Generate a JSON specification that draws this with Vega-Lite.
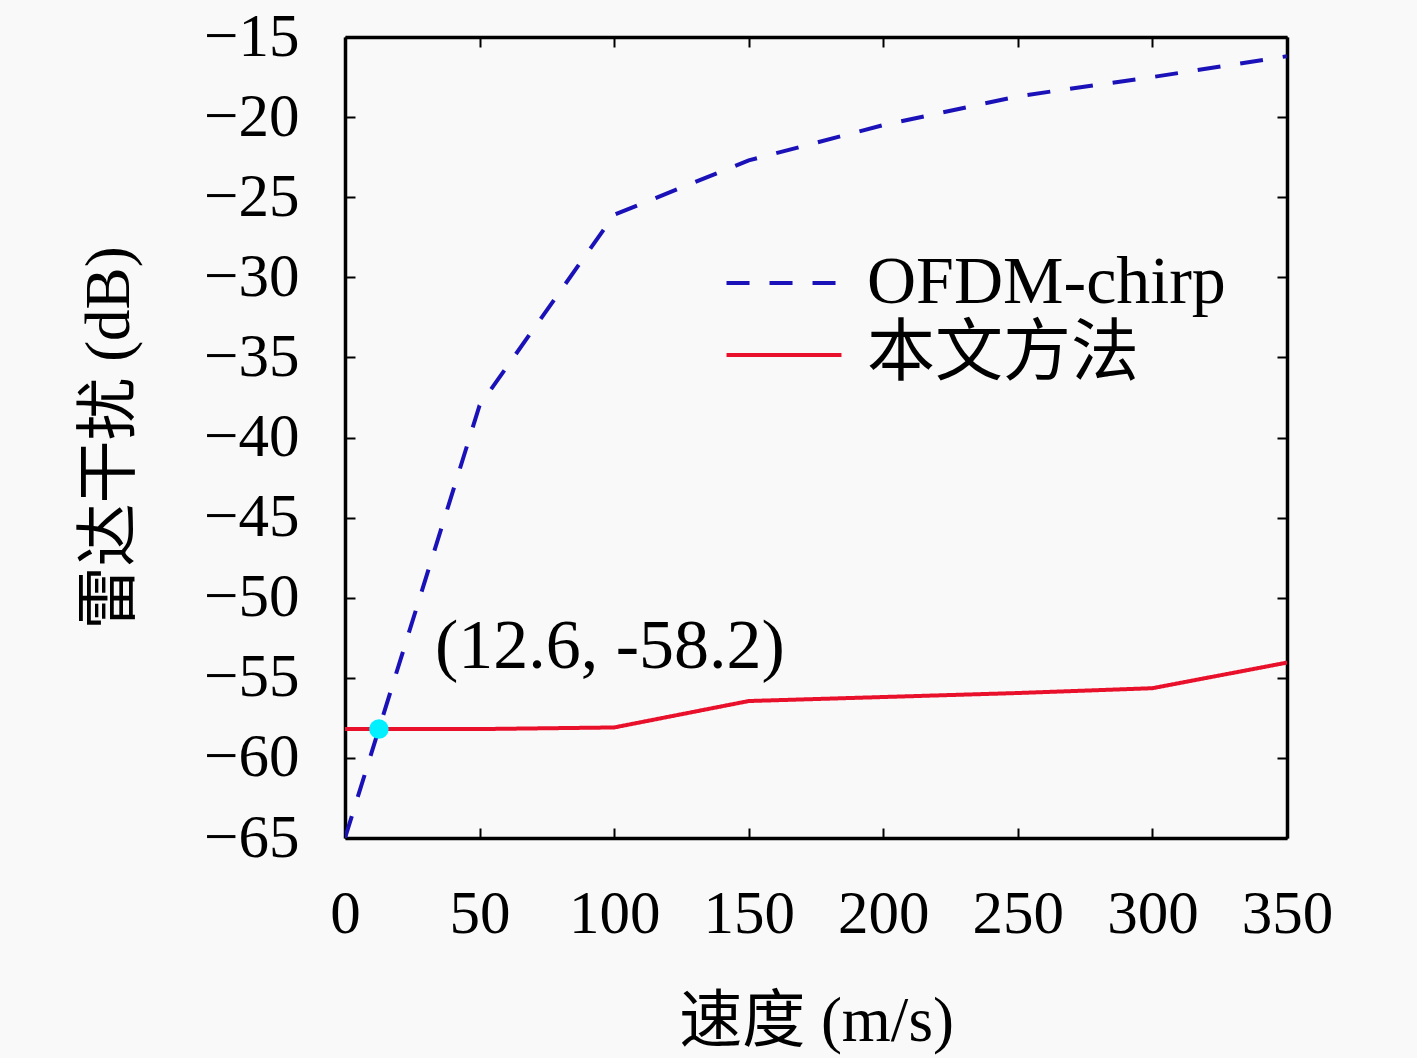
{
  "$schema": "https://vega.github.io/schema/vega-lite/v6.json",
  "width": 942,
  "height": 801,
  "autosize": "none",
  "padding": {"left": 345, "top": 37, "right": 130, "bottom": 220},
  "background": "#f9f9f9",
  "config": {
    "view": {"stroke": null},
    "font": "Liberation Serif",
    "axis": {
      "grid": false,
      "domainColor": "black",
      "domainWidth": 3.5,
      "tickColor": "black",
      "tickWidth": 2,
      "tickSize": -10,
      "labelFont": "Liberation Serif",
      "labelFontSize": 61,
      "labelColor": "black",
      "labelOverlap": false,
      "labelFlush": false,
      "titleFont": "Liberation Serif, Noto Sans CJK SC",
      "titleFontSize": 63,
      "titleFontWeight": "normal",
      "titleColor": "black"
    }
  },
  "datasets": {
    "curves": [
      {"speed": 0, "value": -65.0, "method": "OFDM-chirp"},
      {"speed": 50, "value": -38.0, "method": "OFDM-chirp"},
      {"speed": 100, "value": -26.1, "method": "OFDM-chirp"},
      {"speed": 150, "value": -22.7, "method": "OFDM-chirp"},
      {"speed": 200, "value": -20.5, "method": "OFDM-chirp"},
      {"speed": 250, "value": -18.7, "method": "OFDM-chirp"},
      {"speed": 300, "value": -17.5, "method": "OFDM-chirp"},
      {"speed": 350, "value": -16.2, "method": "OFDM-chirp"},
      {"speed": 0, "value": -58.2, "method": "本文方法"},
      {"speed": 50, "value": -58.2, "method": "本文方法"},
      {"speed": 100, "value": -58.1, "method": "本文方法"},
      {"speed": 150, "value": -56.45, "method": "本文方法"},
      {"speed": 200, "value": -56.2, "method": "本文方法"},
      {"speed": 250, "value": -55.95, "method": "本文方法"},
      {"speed": 300, "value": -55.65, "method": "本文方法"},
      {"speed": 350, "value": -54.05, "method": "本文方法"}
    ],
    "marker": [
      {"speed": 12.6, "value": -58.2, "label": "(12.6, -58.2)"}
    ]
  },
  "layer": [
    {
      "data": {"name": "curves"},
      "mark": {"type": "line", "strokeWidth": 4, "clip": true},
      "encoding": {
        "x": {
          "field": "speed", "type": "quantitative",
          "scale": {"domain": [0, 350], "nice": false},
          "axis": {"values": [0, 50, 100, 150, 200, 250, 300, 350], "labelPadding": 56, "title": "速度 (m/s)", "titlePadding": 46}
        },
        "y": {
          "field": "value", "type": "quantitative",
          "scale": {"domain": [-65, -15], "nice": false, "zero": false},
          "axis": {"values": [-65, -60, -55, -50, -45, -40, -35, -30, -25, -20, -15], "labelPadding": 56, "title": "雷达干扰 (dB)", "titlePadding": 62}
        },
        "color": {
          "field": "method", "type": "nominal",
          "scale": {"domain": ["OFDM-chirp", "本文方法"], "range": ["#1a12b8", "#e8102a"]},
          "legend": {
            "title": null,
            "orient": "none",
            "legendX": 405,
            "legendY": 212,
            "symbolType": "M-4,0H4",
            "symbolSize": 826,
            "symbolStrokeWidth": 4,
            "labelFont": "Liberation Serif, Noto Sans CJK SC",
            "labelFontSize": 68,
            "labelColor": "black",
            "labelOffset": 49,
            "rowPadding": 4,
            "labelLimit": 700
          }
        },
        "strokeDash": {
          "field": "method", "type": "nominal",
          "scale": {"domain": ["OFDM-chirp", "本文方法"], "range": [[23, 20], [1, 0]]},
          "legend": null
        }
      }
    },
    {
      "data": {"name": "marker"},
      "mark": {"type": "point", "filled": true, "color": "#00f0ff", "size": 380, "opacity": 1},
      "encoding": {
        "x": {"field": "speed", "type": "quantitative", "axis": null},
        "y": {"field": "value", "type": "quantitative", "axis": null}
      }
    },
    {
      "data": {"name": "marker"},
      "mark": {"type": "text", "align": "left", "baseline": "middle", "dx": 56, "dy": -82, "fontSize": 70, "font": "Liberation Serif", "color": "black"},
      "encoding": {
        "x": {"field": "speed", "type": "quantitative", "axis": null},
        "y": {"field": "value", "type": "quantitative", "axis": null},
        "text": {"field": "label"}
      }
    },
    {
      "data": {"name": "marker"},
      "mark": {"type": "point", "opacity": 0},
      "encoding": {
        "x": {"field": "speed", "type": "quantitative", "axis": {"orient": "top", "values": [0, 50, 100, 150, 200, 250, 300, 350], "labels": false, "title": null}},
        "y": {"field": "value", "type": "quantitative", "axis": {"orient": "right", "values": [-65, -60, -55, -50, -45, -40, -35, -30, -25, -20, -15], "labels": false, "title": null}}
      }
    }
  ],
  "resolve": {"axis": {"x": "independent", "y": "independent"}}
}
